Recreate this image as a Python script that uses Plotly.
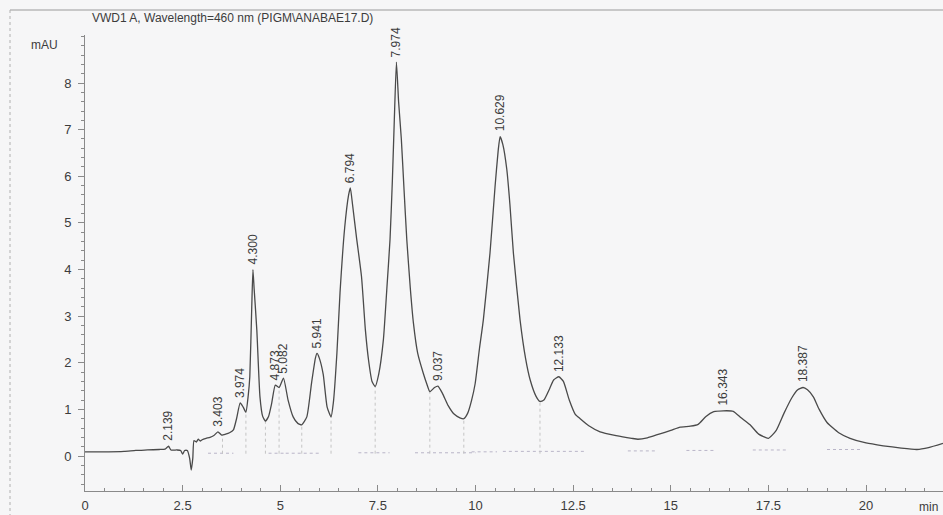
import plotly.graph_objects as go

# Detector trace: retention time (min) and absorbance (mAU)
time_min = [
    0.00, 0.30, 0.60, 1.00, 1.30, 1.60, 1.90, 2.05, 2.139, 2.20, 2.35, 2.45, 2.50, 2.55,
    2.62, 2.68, 2.72, 2.76, 2.79, 2.85, 2.90, 2.95, 3.00, 3.10, 3.20, 3.30, 3.403, 3.50,
    3.60, 3.70, 3.80, 3.88, 3.974, 4.05, 4.12, 4.18, 4.22, 4.27, 4.300, 4.33, 4.40, 4.48,
    4.55, 4.62, 4.70, 4.78, 4.873, 4.97, 5.082, 5.20, 5.33, 5.45, 5.55, 5.68, 5.80, 5.90,
    5.941, 6.00, 6.10, 6.20, 6.30, 6.36, 6.45, 6.53, 6.65, 6.75, 6.794, 6.85, 6.95, 7.08,
    7.18, 7.26, 7.35, 7.43, 7.52, 7.64, 7.73, 7.81, 7.87, 7.92, 7.974, 8.03, 8.10, 8.17,
    8.24, 8.33, 8.41, 8.52, 8.66, 8.75, 8.83, 8.95, 9.037, 9.15, 9.30, 9.45, 9.60, 9.70,
    9.80, 9.90, 9.99, 10.10, 10.20, 10.37, 10.50, 10.58, 10.629, 10.70, 10.80, 10.88,
    10.97, 11.14, 11.28, 11.40, 11.55, 11.65, 11.75, 11.90, 12.00, 12.133, 12.25, 12.40,
    12.55, 12.68, 12.90, 13.19, 13.60, 14.00, 14.16, 14.40, 14.70, 15.00, 15.24, 15.50,
    15.70, 15.90, 16.10, 16.343, 16.60, 16.80, 17.03, 17.25, 17.50, 17.70, 17.90, 18.10,
    18.25, 18.387, 18.50, 18.65, 18.80, 19.00, 19.30, 19.59, 20.00, 20.44, 20.90, 21.30,
    21.60, 21.97,
]
signal_mau = [
    0.09, 0.09, 0.09, 0.10, 0.12, 0.13, 0.14, 0.15, 0.21, 0.13, 0.13, 0.12, 0.04, 0.12,
    0.12, -0.05, -0.30, -0.05, 0.33, 0.30, 0.36, 0.32, 0.35, 0.38, 0.40, 0.44, 0.52, 0.45,
    0.47, 0.50, 0.56, 0.80, 1.14, 1.05, 0.94, 1.30, 1.70, 3.20, 4.00, 3.60, 2.70, 1.27,
    0.85, 0.75, 0.85, 1.13, 1.52, 1.47, 1.67, 1.20, 0.84, 0.70, 0.67, 0.84, 1.56, 2.10,
    2.20, 2.10, 1.75, 1.05, 0.84, 1.15, 2.20, 3.50, 4.90, 5.60, 5.75, 5.40, 4.70, 3.85,
    2.70, 2.06, 1.60, 1.49, 1.75, 2.49, 3.60, 4.64, 5.90, 7.20, 8.45, 7.60, 6.80, 5.70,
    4.64, 3.60, 2.85, 2.20, 1.78, 1.55, 1.38, 1.47, 1.50, 1.35, 1.08, 0.90, 0.82, 0.80,
    0.92, 1.20, 1.55, 2.30, 2.92, 4.35, 5.78, 6.55, 6.85, 6.68, 6.15, 5.40,
    4.35, 2.92, 2.10, 1.63, 1.28, 1.17, 1.20, 1.45, 1.63, 1.70, 1.60, 1.20,
    0.90, 0.80, 0.65, 0.52, 0.44, 0.38, 0.36, 0.39, 0.47, 0.55, 0.62, 0.64,
    0.68, 0.85, 0.95, 0.97, 0.96, 0.82, 0.67, 0.47, 0.38, 0.55, 0.92, 1.25,
    1.42, 1.47, 1.42, 1.27, 1.00, 0.72, 0.50, 0.38, 0.28, 0.22, 0.17, 0.14,
    0.18, 0.27,
]

# Integrated peaks: retention time and apex height
peak_rt = [2.139, 3.403, 3.974, 4.300, 4.873, 5.082, 5.941, 6.794, 7.974,
           9.037, 10.629, 12.133, 16.343, 18.387]
peak_height = [0.21, 0.52, 1.14, 4.00, 1.52, 1.67, 2.20, 5.75, 8.45,
               1.50, 6.85, 1.70, 0.97, 1.47]

# Peak-split drop lines (valley time, valley height)
valley_rt = [3.52, 4.12, 4.62, 4.97, 5.55, 6.30, 7.43, 8.83, 9.70, 11.65]
valley_height = [0.45, 0.94, 0.75, 1.47, 0.67, 0.84, 1.49, 1.38, 0.80, 1.17]

# Integration baseline segments (start, end, level)
base_start = [3.15, 4.70, 5.14, 7.00, 8.45, 9.90, 10.70, 13.90, 15.40, 17.10, 19.00]
base_end = [3.80, 5.10, 6.05, 7.80, 10.00, 10.55, 12.80, 14.60, 16.10, 18.00, 19.90]
base_level = [0.06, 0.06, 0.06, 0.07, 0.07, 0.09, 0.10, 0.11, 0.12, 0.13, 0.14]

x_ticks = [0, 2.5, 5, 7.5, 10, 12.5, 15, 17.5, 20]
x_tick_text = ["0", "2.5", "5", "7.5", "10", "12.5", "15", "17.5", "20"]
y_ticks = [0, 1, 2, 3, 4, 5, 6, 7, 8]

FONT = "Liberation Sans, Arial, sans-serif"
INK = "#3c3c3c"
AXIS = "#8a8a8a"
PAPER = "#f6f6f7"

fig = go.Figure()

# baseline segments
bx, by = [], []
for s, e, lv in zip(base_start, base_end, base_level):
    bx += [s, e, None]
    by += [lv, lv, None]
fig.add_trace(go.Scatter(x=bx, y=by, mode="lines",
                         line=dict(color="#b9b5c8", width=1, dash="dot"),
                         hoverinfo="skip", showlegend=False))

# drop lines
dx, dy = [], []
for t, v in zip(valley_rt, valley_height):
    dx += [t, t, None]
    dy += [0.05, v, None]
fig.add_trace(go.Scatter(x=dx, y=dy, mode="lines",
                         line=dict(color="#c4c4c4", width=1, dash="dot"),
                         hoverinfo="skip", showlegend=False))

# chromatogram
fig.add_trace(go.Scatter(x=time_min, y=signal_mau, mode="lines",
                         line=dict(color="#4a4a4a", width=1.3, shape="spline", smoothing=0.5),
                         showlegend=False))

# retention-time labels
for t, h in zip(peak_rt, peak_height):
    fig.add_annotation(x=t, y=h, text=f"{t:.3f}", textangle=-90, showarrow=False,
                       xanchor="center", yanchor="bottom", yshift=3,
                       font=dict(family=FONT, size=12, color=INK))

fig.add_annotation(xref="paper", yref="paper", x=0.006, y=1.037,
                   text="VWD1 A, Wavelength=460 nm (PIGM\\ANABAE17.D)",
                   showarrow=False, xanchor="left", yanchor="middle",
                   font=dict(family=FONT, size=12, color=INK))
fig.add_annotation(xref="paper", yref="paper", x=-0.047, y=0.978, text="mAU",
                   showarrow=False, xanchor="center", yanchor="middle",
                   font=dict(family=FONT, size=12, color=INK))
fig.add_annotation(xref="paper", yref="paper", x=0.997, y=-0.035, text="min",
                   showarrow=False, xanchor="right", yanchor="middle",
                   font=dict(family=FONT, size=12, color=INK))

# page frame
fig.add_shape(type="line", xref="paper", yref="paper", x0=-0.0874, x1=1.0,
              y0=1.0548, y1=1.0548, line=dict(color="#9a9a9a", width=1))
fig.add_shape(type="line", xref="paper", yref="paper", x0=-0.0874, x1=-0.0874,
              y0=1.0548, y1=-0.06, line=dict(color="#b0b0b0", width=1, dash="dot"))

fig.update_layout(
    width=943, height=515,
    margin=dict(l=85, r=0, t=35, b=24),
    paper_bgcolor=PAPER, plot_bgcolor=PAPER,
    font=dict(family=FONT, color=INK),
    xaxis=dict(range=[0, 21.97], tickvals=x_ticks, ticktext=x_tick_text,
               ticks="inside", ticklen=6, tickcolor=AXIS, showline=True,
               linecolor=AXIS, linewidth=1, showgrid=False, zeroline=False,
               tickfont=dict(size=13, color=INK), ticklabelstandoff=2,
               minor=dict(dtick=0.5, ticks="inside", ticklen=3, tickcolor=AXIS)),
    yaxis=dict(range=[-0.75, 9.03], tickvals=y_ticks, ticks="outside", ticklen=6,
               tickcolor=AXIS, showline=True, linecolor=AXIS, linewidth=1,
               showgrid=False, zeroline=False, tickfont=dict(size=13, color=INK),
               ticklabelstandoff=4,
               minor=dict(dtick=0.2, ticks="outside", ticklen=3, tickcolor=AXIS)),
)

fig.write_html("out.html", config={"displayModeBar": False})
